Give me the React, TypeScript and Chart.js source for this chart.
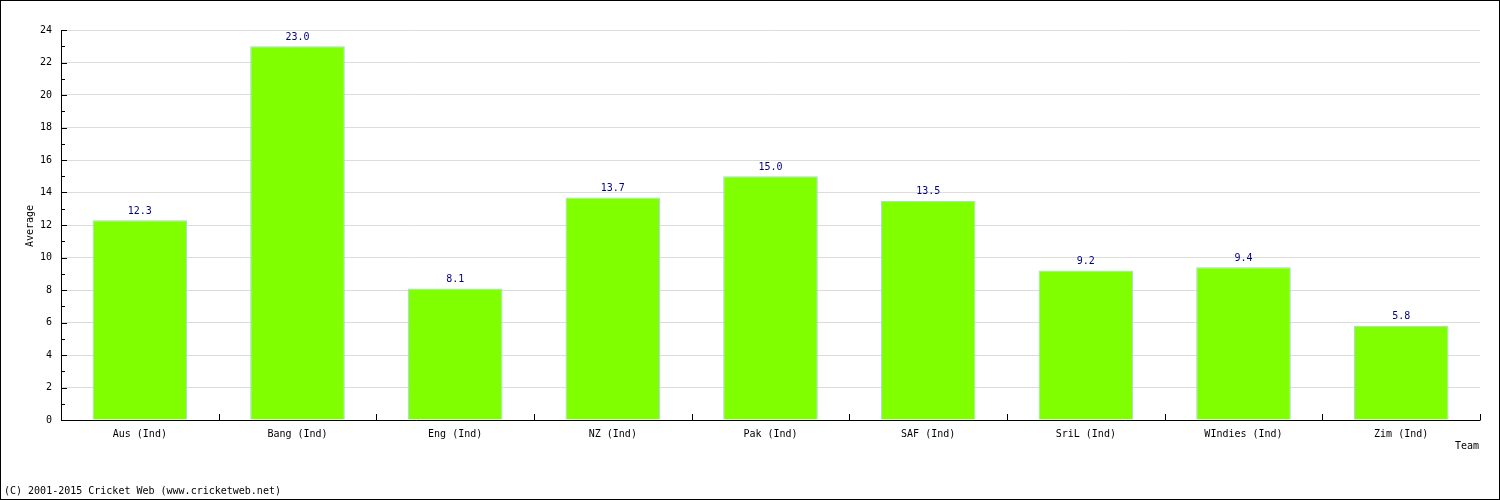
import React, { useEffect, useRef } from "react";
import { Chart, registerables } from "chart.js";
Chart.register(...registerables);

const categories = ["Aus (Ind)", "Bang (Ind)", "Eng (Ind)", "NZ (Ind)", "Pak (Ind)", "SAF (Ind)", "SriL (Ind)", "WIndies (Ind)", "Zim (Ind)"];
const averages = [12.3, 23.0, 8.1, 13.7, 15.0, 13.5, 9.2, 9.4, 5.8];
const yTicks = [0, 2, 4, 6, 8, 10, 12, 14, 16, 18, 20, 22, 24];

const FONT = "DejaVu Sans Mono";

const decorPlugin = {
  id: "decor",
  afterDatasetsDraw(chart: any) {
    const ctx = chart.ctx;
    const { left, right, top, bottom } = chart.chartArea;
    const y = chart.scales.y;
    ctx.save();
    ctx.strokeStyle = "#000";
    ctx.lineWidth = 1;
    // axes
    ctx.beginPath();
    ctx.moveTo(left + 0.5, top);
    ctx.lineTo(left + 0.5, bottom + 0.5);
    ctx.lineTo(right + 0.5, bottom + 0.5);
    ctx.stroke();
    // y ticks
    for (let v = 0; v <= 24; v += 1) {
      const py = Math.round(y.getPixelForValue(v)) + 0.5;
      const len = v % 2 === 0 ? 5 : 3;
      ctx.beginPath();
      ctx.moveTo(left, py);
      ctx.lineTo(left + 1 + len, py);
      ctx.stroke();
    }
    // x ticks
    const n = categories.length;
    for (let i = 1; i <= n; i++) {
      const px = Math.round(left + ((right - left) * i) / n) + 0.5;
      ctx.beginPath();
      ctx.moveTo(px, bottom);
      ctx.lineTo(px, bottom - 6);
      ctx.stroke();
    }
    // value labels
    const meta = chart.getDatasetMeta(0);
    ctx.fillStyle = "#000080";
    ctx.font = `10px "${FONT}"`;
    ctx.textAlign = "center";
    ctx.textBaseline = "bottom";
    meta.data.forEach((bar: any, i: number) => {
      ctx.fillText(averages[i].toFixed(1), bar.x, bar.y - 4);
    });
    // titles
    ctx.fillStyle = "#000";
    ctx.textAlign = "right";
    ctx.textBaseline = "middle";
    ctx.fillText("Team", 1479, 446);
    ctx.textAlign = "left";
    ctx.fillText("(C) 2001-2015 Cricket Web (www.cricketweb.net)", 4, 491);
    ctx.save();
    ctx.translate(30, 226);
    ctx.rotate(-Math.PI / 2);
    ctx.textAlign = "center";
    ctx.fillText("Average", 0, 0);
    ctx.restore();
    // border
    ctx.strokeStyle = "#000";
    ctx.strokeRect(0.5, 0.5, chart.width - 1, chart.height - 1);
    ctx.restore();
  },
};

export default function App() {
  const ref = useRef<HTMLCanvasElement>(null);
  useEffect(() => {
    document.body.style.margin = "0";
    const chart = new Chart(ref.current!, {
      type: "bar",
      data: {
        labels: categories,
        datasets: [
          {
            data: averages,
            backgroundColor: "#80ff00",
            borderColor: "#a8d0f0",
            borderWidth: 1,
            categoryPercentage: 1,
            barPercentage: 0.6,
          },
        ],
      },
      options: {
        animation: false,
        responsive: false,
        maintainAspectRatio: false,
        layout: { padding: { left: 0, top: 30, right: 20, bottom: 0 } },
        plugins: { legend: { display: false }, tooltip: { enabled: false } },
        scales: {
          x: {
            afterFit: (s: any) => { s.height = 80; },
            grid: { display: false, drawTicks: false },
            border: { display: false },
            ticks: { color: "#000", font: { family: FONT, size: 10 }, padding: 8, maxRotation: 0, autoSkip: false },
          },
          y: {
            min: 0,
            max: 24,
            afterFit: (s: any) => { s.width = 61; },
            afterBuildTicks: (s: any) => { s.ticks = yTicks.map((v) => ({ value: v })); },
            grid: { color: "#dcdcdc", drawTicks: false, lineWidth: 1 },
            border: { display: false },
            ticks: { color: "#000", font: { family: FONT, size: 10 }, padding: 9 },
          },
        },
      },
      plugins: [decorPlugin],
    });
    return () => chart.destroy();
  }, []);
  return <canvas ref={ref} width={1500} height={500} style={{ display: "block" }} />;
}
